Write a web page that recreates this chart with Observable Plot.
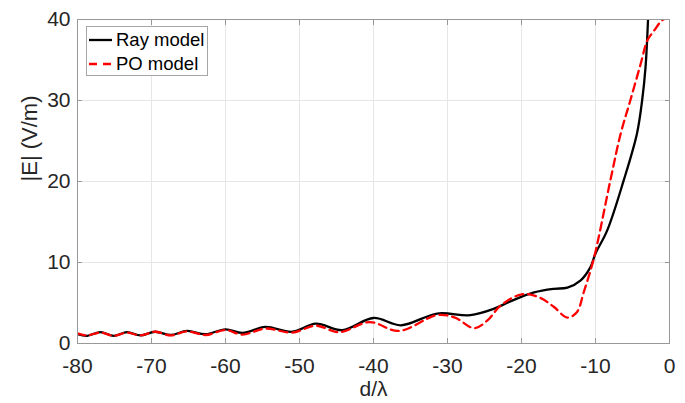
<!DOCTYPE html>
<html>
<head>
<meta charset="utf-8">
<script src="https://cdn.jsdelivr.net/npm/d3@7"></script>
<script src="https://cdn.jsdelivr.net/npm/@observablehq/plot@0.6"></script>
<style>
  body { margin: 0; background: #fff; }
  #wrap { position: relative; width: 685px; height: 403px; font-family: "Liberation Sans", Arial, sans-serif; }
  #legend { position: absolute; left: 86px; top: 26px; width: 122px; height: 50px; border: 1px solid #a6a6a6; background: #fff; box-sizing: border-box; }
  .row { position: absolute; left: 1px; height: 20px; display: flex; align-items: center; font-size: 18.5px; color: #000; white-space: nowrap; }
  .row svg { margin-right: 3px; }
</style>
</head>
<body>
<div id="wrap"></div>
<script>
// Ray model (black, solid)
const rayD = [-80, -78.7, -76.9, -75.1, -73.3, -71.5, -69.5, -67.4, -65.2, -62.7, -60.0, -57.7, -54.6, -51.0, -47.8, -44.2, -40.0, -36.3, -31.4, -26.9, -23.7, -21.5, -18.3, -15.6, -13.8, -12.0, -10.7, -10.0, -8.4, -6.2, -4.4, -3.7, -3.24, -2.9];
const rayE = [1.15, 0.95, 1.4, 0.95, 1.4, 1.0, 1.45, 1.05, 1.55, 1.15, 1.75, 1.3, 2.05, 1.45, 2.45, 1.65, 3.15, 2.25, 3.7, 3.5, 4.3, 5.2, 6.3, 6.75, 6.9, 7.8, 9.4, 11.1, 14.0, 20.1, 25.9, 30.0, 34.1, 40.0];
// PO model (red, dashed)
const poD = [-80, -78.7, -76.9, -75.1, -73.3, -71.5, -69.5, -67.4, -65.2, -62.7, -60.0, -57.7, -54.6, -51.0, -47.8, -44.6, -40.5, -36.6, -31.4, -29.0, -26.4, -24.6, -22.8, -19.8, -17.4, -15.6, -13.8, -12.5, -11.6, -10.2, -8.0, -6.6, -5.3, -3.9, -3.0, -2.1, -1.0, 0];
const poE = [1.25, 1.0, 1.35, 0.95, 1.35, 1.0, 1.45, 1.0, 1.5, 1.05, 1.65, 1.1, 1.85, 1.35, 2.2, 1.4, 2.65, 1.55, 3.5, 3.2, 1.9, 2.85, 4.7, 6.1, 5.6, 4.5, 3.2, 3.9, 6.3, 10.6, 20.1, 25.9, 30.0, 34.5, 37.4, 38.6, 39.9, 40.3];
const xTicks = [-80, -70, -60, -50, -40, -30, -20, -10, 0];
const yTicks = [0, 10, 20, 30, 40];
const seriesNames = ["Ray model", "PO model"];

const ray = rayD.map((d, i) => ({d, e: rayE[i]}));
const po = poD.map((d, i) => ({d, e: poE[i]}));

const axisColor = "#999";
const textColor = "#262626";

const chart = Plot.plot({
  width: 685,
  height: 403,
  marginLeft: 77,
  marginRight: 16,
  marginTop: 19,
  marginBottom: 60,
  style: { fontFamily: "'Liberation Sans', Arial, sans-serif", background: "#fff", overflow: "visible" },
  x: { domain: [-80, 0], ticks: xTicks },
  y: { domain: [0, 40], ticks: yTicks },
  marks: [
    Plot.gridX(xTicks, { stroke: "#e6e6e6", strokeOpacity: 1, strokeWidth: 1 }),
    Plot.gridY(yTicks, { stroke: "#e6e6e6", strokeOpacity: 1, strokeWidth: 1 }),
    Plot.line(ray, { x: "d", y: "e", stroke: "#000", strokeWidth: 2.3, curve: "catmull-rom", clip: true }),
    Plot.line(po, { x: "d", y: "e", stroke: "#ff0000", strokeWidth: 2.3, strokeDasharray: "8,5", curve: "catmull-rom", clip: true }),
    Plot.frame({ stroke: axisColor, strokeWidth: 1 }),
    Plot.axisX(xTicks, { anchor: "bottom", tickSize: -5, stroke: axisColor, tickFormat: () => "", label: null }),
    Plot.axisX(xTicks, { anchor: "top", tickSize: -5, stroke: axisColor, tickFormat: () => "", label: null }),
    Plot.axisY(yTicks, { anchor: "left", tickSize: -5, stroke: axisColor, tickFormat: () => "", label: null }),
    Plot.axisY(yTicks, { anchor: "right", tickSize: -5, stroke: axisColor, tickFormat: () => "", label: null }),
    Plot.axisX(xTicks, { anchor: "bottom", tickSize: 0, tickPadding: 15, fontSize: 21, fill: textColor, tickFormat: d => d < 0 ? "-" + Math.abs(d) : String(d), label: null }),
    Plot.axisY(yTicks, { anchor: "left", tickSize: 0, tickPadding: 7, fontSize: 21, fill: textColor, label: null }),
    Plot.text(["d/λ"], { frameAnchor: "bottom", dy: 52, fontSize: 21, fill: textColor }),
    Plot.text(["|E| (V/m)"], { frameAnchor: "left", dx: -48, rotate: -90, fontSize: 22, fill: textColor })
  ]
});

const wrap = document.getElementById("wrap");
wrap.appendChild(chart);

const legend = document.createElement("div");
legend.id = "legend";
const styles = [{ stroke: "#000", dash: "" }, { stroke: "#ff0000", dash: "8,6" }];
seriesNames.forEach((name, i) => {
  const row = document.createElement("div");
  row.className = "row";
  row.style.top = (i === 0 ? 3 : 27) + "px";
  row.innerHTML = `<svg width="25" height="10"><line x1="1" x2="24" y1="5" y2="5" stroke="${styles[i].stroke}" stroke-width="2.3" ${styles[i].dash ? `stroke-dasharray="${styles[i].dash}"` : ""}/></svg><span>${name}</span>`;
  legend.appendChild(row);
});
wrap.appendChild(legend);
</script>
</body>
</html>
